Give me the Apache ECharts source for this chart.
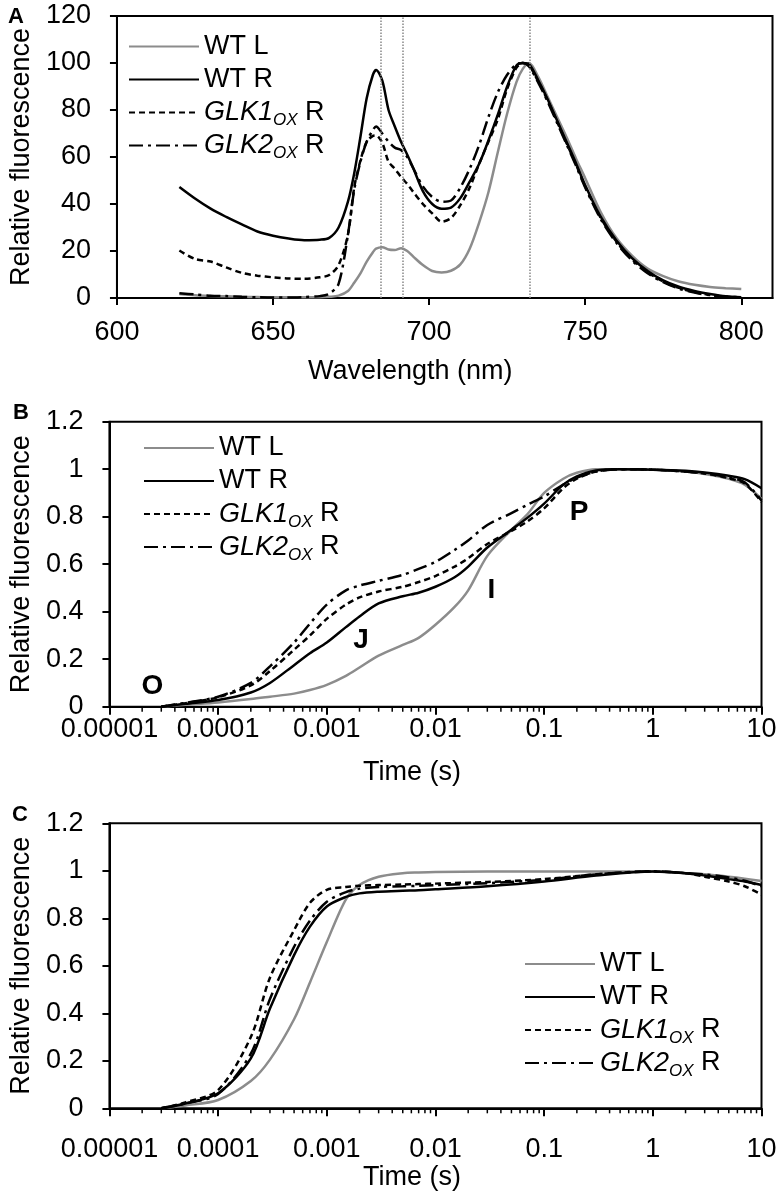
<!DOCTYPE html>
<html>
<head>
<meta charset="utf-8">
<script src="https://cdn.jsdelivr.net/npm/echarts@6/dist/echarts.min.js"></script>
<style>
  html, body { margin: 0; padding: 0; background: #fff; }
  #chart { width: 780px; height: 1194px; }
</style>
</head>
<body>
<div id="chart"></div>
<script>
// --- data ---
const names = ['WT L', 'WT R', 'GLK1OX R', 'GLK2OX R']

// panel A: 77 K emission spectra
const wavelength = [620, 625, 630, 635, 640, 645, 650, 655, 660, 665,
  668, 671, 674, 676, 678, 680, 682, 683, 685, 687,
  689, 691, 693, 695, 698, 701, 704, 707, 710, 713,
  716, 719, 722, 725, 728, 730, 732, 735, 738, 741,
  744, 747, 750, 755, 760, 765, 770, 775, 780, 785,
  790, 795, 800]
const specWTL = [1.7, 1.2, 0.9, 0.7, 0.5, 0.4, 0.3, 0.3, 0.3, 0.3,
  0.5, 1.0, 3.0, 6.5, 10.5, 15.5, 19.5, 21, 21.6, 20.6,
  20.4, 21.2, 20, 17.5, 14, 11.5, 10.9, 11.6, 14.3, 21,
  32, 45, 62, 78.5, 92, 97.5, 100, 94, 85.5, 77,
  68.5, 59.5, 51, 36.5, 25.5, 18, 12.5, 9.3, 7, 5.6,
  4.7, 4.2, 3.8]
const specWTR = [47.2, 42.3, 38, 34.5, 31.3, 28.3, 26.5, 25.3, 24.6, 24.8,
  25.6, 30, 41, 53, 68.6, 85, 95, 97, 92.5, 80,
  73, 66.5, 61, 55, 45.5, 40, 38, 38.5, 42.5, 49.5,
  57, 67, 78, 90, 99, 100, 99.5, 92.5, 84.5, 75.5,
  66.5, 57.5, 48, 34.5, 24.5, 17, 11.5, 7.5, 4.8, 3,
  1.7, 0.7, 0.3]
const specGLK1 = [20.2, 16.6, 15.5, 13, 10.7, 9.5, 8.8, 8.3, 8.2, 8.8,
  9.8, 14, 27, 47, 58.5, 66.5, 69, 69.2, 66, 58,
  55, 51.5, 48.5, 45, 40, 36, 32.5, 34, 39.5, 47,
  57, 66.5, 76, 89, 98, 100, 99, 92, 84, 75,
  66, 57, 47.5, 34, 24, 16.5, 11, 7, 4.3, 2.5,
  1.3, 0.5, 0.2]
const specGLK2 = [2, 1.5, 1, 0.8, 0.5, 0.3, 0.2, 0.2, 0.4, 0.8,
  1.8, 6, 27, 46, 58, 66.5, 71.5, 73, 70, 66.5,
  64, 63, 60, 55, 47.5, 43, 41, 41.5, 47, 55,
  65, 77, 87.5, 95, 99.5, 100, 98.5, 91.5, 83.5, 74.5,
  65.5, 56.5, 47, 33.5, 23.5, 16, 10.5, 6.8, 4, 2.3,
  1.2, 0.6, 0.3]
const markWavelengths = [684.5, 691.4, 732.3]
const wlTicks = [600, 650, 700, 750, 800]

// panel B: OJIP transients
const timeB = [3e-5, 5e-5, 1e-4, 2e-4, 3e-4, 5e-4, 7e-4, 1e-3, 1.5e-3, 2e-3,
  3e-3, 5e-3, 7e-3, 1e-2, 1.5e-2, 2e-2, 3e-2, 5e-2, 7e-2, 0.1,
  0.15, 0.2, 0.3, 0.5, 1, 2, 3, 5, 7, 10]
const ojipWTL = [0, 0.008, 0.018, 0.032, 0.042, 0.055, 0.07, 0.092, 0.13, 0.165,
  0.215, 0.26, 0.29, 0.345, 0.42, 0.49, 0.635, 0.745, 0.81, 0.9,
  0.96, 0.985, 1.0, 1.0, 0.998, 0.99, 0.98, 0.96, 0.935, 0.875]
const ojipWTR = [0, 0.012, 0.028, 0.06, 0.1, 0.175, 0.225, 0.27, 0.335, 0.38,
  0.435, 0.465, 0.48, 0.505, 0.545, 0.59, 0.67, 0.745, 0.795, 0.855,
  0.935, 0.97, 0.995, 1.0, 0.998, 0.993, 0.986, 0.972, 0.958, 0.92]
const ojipGLK1 = [0, 0.015, 0.04, 0.09, 0.15, 0.24, 0.3, 0.37, 0.43, 0.46,
  0.485, 0.505, 0.525, 0.55, 0.59, 0.625, 0.685, 0.74, 0.78, 0.835,
  0.92, 0.96, 0.99, 1.0, 0.998, 0.99, 0.982, 0.962, 0.94, 0.862]
const ojipGLK2 = [0, 0.016, 0.042, 0.1, 0.17, 0.27, 0.35, 0.43, 0.49, 0.51,
  0.53, 0.555, 0.58, 0.61, 0.66, 0.7, 0.765, 0.815, 0.85, 0.885,
  0.935, 0.965, 0.99, 1.0, 0.998, 0.99, 0.983, 0.965, 0.945, 0.868]

// panel C
const timeC = [3e-5, 5e-5, 1e-4, 2e-4, 3e-4, 5e-4, 7e-4, 1e-3, 1.5e-3, 2e-3,
  3e-3, 5e-3, 7e-3, 1e-2, 3e-2, 0.1, 0.3, 1, 2, 3, 5, 7, 10]
const cWTL = [0, 0.012, 0.035, 0.115, 0.205, 0.375, 0.53, 0.7, 0.88, 0.94,
  0.975, 0.99, 0.993, 0.995, 0.997, 0.997, 0.997, 0.997, 0.99, 0.985, 0.975, 0.967, 0.957]
const cWTR = [0, 0.02, 0.063, 0.21, 0.42, 0.645, 0.765, 0.85, 0.89, 0.905,
  0.912, 0.916, 0.918, 0.922, 0.935, 0.955, 0.98, 0.997, 0.99, 0.98, 0.965, 0.955, 0.94]
const cGLK1 = [0, 0.025, 0.077, 0.3, 0.55, 0.75, 0.865, 0.92, 0.932, 0.937,
  0.94, 0.942, 0.944, 0.946, 0.953, 0.965, 0.985, 0.997, 0.99, 0.975, 0.955, 0.935, 0.9]
const cGLK2 = [0, 0.02, 0.06, 0.23, 0.46, 0.68, 0.79, 0.87, 0.91, 0.925,
  0.932, 0.935, 0.937, 0.94, 0.948, 0.962, 0.985, 0.998, 0.99, 0.985, 0.972, 0.958, 0.935]

const timeTicks = [1e-5, 1e-4, 1e-3, 1e-2, 0.1, 1, 10]
const minorMultipliers = [2, 3, 4, 5, 6, 7, 8, 9]

// --- styling ---
const FONT = '"Liberation Sans", Arial, Helvetica, sans-serif'
const GREY = '#8c8c8c'
const lineStyles = {
  'WT L': { color: GREY, type: 'solid' },
  'WT R': { color: '#000', type: 'solid' },
  'GLK1OX R': { color: '#000', type: [6, 4] },
  'GLK2OX R': { color: '#000', type: [14, 5, 3, 5] }
}

// 2..9 x each decade, for the short log ticks
const minorTicks = []
timeTicks.slice(0, -1).forEach(d => minorMultipliers.forEach(k => minorTicks.push(+(k * d).toPrecision(1))))

function pairs(xs, ys) {
  return xs.map((x, i) => [x, ys[i]])
}

function timeLabel(v) {
  const s = Number(v.toPrecision(1))
  return s >= 1 ? String(s) : s.toFixed(Math.round(-Math.log10(s)))
}

function legendText(name) {
  const m = name.match(/^(GLK\d)OX R$/)
  return m ? `{it|${m[1]}}{sub|OX}{n| R}` : `{n|${name}}`
}

const legendRich = {
  n: { fontSize: 27, lineHeight: 33, fontFamily: FONT, color: '#000' },
  it: { fontSize: 27, lineHeight: 33, fontFamily: FONT, color: '#000', fontStyle: 'italic' },
  sub: { fontSize: 17, lineHeight: 9, fontFamily: FONT, color: '#000', fontStyle: 'italic', verticalAlign: 'bottom' }
}

function makeLegend(left, top) {
  return {
    data: names, orient: 'vertical', left, top, padding: 0, itemGap: 0,
    itemWidth: 70, itemHeight: 14, selectedMode: false,
    itemStyle: { opacity: 0 },
    formatter: legendText,
    textStyle: { fontSize: 27, lineHeight: 33, fontFamily: FONT, color: '#000', rich: legendRich }
  }
}

const axisLine = { show: true, onZero: false, lineStyle: { color: '#000', width: 2 } }
const labelStyle = { color: '#000', fontSize: 27, fontFamily: FONT }

function yAxis(gridIndex, max, interval, nameGap) {
  return {
    type: 'value', gridIndex, min: 0, max, interval,
    name: 'Relative fluorescence', nameLocation: 'middle', nameGap,
    nameTextStyle: labelStyle,
    axisLine, splitLine: { show: false },
    axisTick: { show: true, length: 7, lineStyle: { color: '#000', width: 2 } },
    axisLabel: Object.assign({ margin: 26 }, labelStyle)
  }
}

function timeAxis(gridIndex, labelMargin, nameGap) {
  return {
    type: 'log', logBase: 10, gridIndex, min: 1e-5, max: 10,
    name: 'Time (s)', nameLocation: 'middle', nameGap,
    nameTextStyle: Object.assign({ padding: [0, 47, 0, 0] }, labelStyle),
    axisLine, splitLine: { show: false }, minorTick: { show: false },
    axisTick: { show: true, length: 8, lineStyle: { color: '#000', width: 2 } },
    axisLabel: Object.assign({ margin: labelMargin, formatter: timeLabel }, labelStyle)
  }
}

function lineSeries(name, xAxisIndex, yAxisIndex, data) {
  const st = lineStyles[name]
  return {
    type: 'line', name, xAxisIndex, yAxisIndex, data,
    symbol: 'none', showSymbol: false, smooth: 0.3,
    lineStyle: { color: st.color, type: st.type, width: 2.5 },
    itemStyle: { color: st.color },
    emphasis: { disabled: true }, animation: false
  }
}

// short ticks between the decades, placed through the log axis
function minorTickSeries(xAxisIndex, yAxisIndex) {
  return {
    type: 'custom', name: 'minor ticks', xAxisIndex, yAxisIndex, clip: false, silent: true, z: 5,
    data: minorTicks.map(t => [t, 0]),
    encode: { x: 0, y: 1 },
    renderItem: (params, api) => {
      const p = api.coord([api.value(0), 0])
      return {
        type: 'line',
        shape: { x1: p[0], y1: p[1], x2: p[0], y2: p[1] + 5 },
        style: { stroke: '#000', lineWidth: 1.5 }
      }
    }
  }
}

const specSeries = [specWTL, specWTR, specGLK1, specGLK2]
const ojipSeries = [ojipWTL, ojipWTR, ojipGLK1, ojipGLK2]
const cSeries = [cWTL, cWTR, cGLK1, cGLK2]

const series = []
names.forEach((n, i) => series.push(lineSeries(n, 0, 0, pairs(wavelength, specSeries[i]))))
names.forEach((n, i) => series.push(lineSeries(n, 1, 1, pairs(timeB, ojipSeries[i]))))
names.forEach((n, i) => series.push(lineSeries(n, 2, 2, pairs(timeC, cSeries[i]))))
series.push(minorTickSeries(1, 1), minorTickSeries(2, 2))

// dotted guide lines in panel A
series[0].markLine = {
  silent: true, symbol: ['none', 'none'], label: { show: false },
  lineStyle: { type: 'dotted', color: '#888', width: 1.5 },
  data: markWavelengths.map(w => ({ xAxis: w }))
}

const boxed = { show: true, borderColor: '#000', borderWidth: 2, backgroundColor: 'transparent' }

function letter(text, x, y, size) {
  return {
    type: 'text', x, y, silent: true,
    style: {
      text, fill: '#000', fontSize: size, fontWeight: 'bold', fontFamily: FONT,
      align: 'center', verticalAlign: 'middle'
    }
  }
}

const chart = echarts.init(document.getElementById('chart'), null, { renderer: 'canvas' })
chart.setOption({
  animation: false,
  backgroundColor: '#fff',
  grid: [
    Object.assign({ left: 108, top: 16, width: 664.5, height: 282 }, boxed),
    Object.assign({ left: 102.7, top: 421.7, width: 658.8, height: 285 }, boxed),
    Object.assign({ left: 102.7, top: 823.3, width: 658.8, height: 285 }, boxed)
  ],
  legend: [makeLegend(128, 30), makeLegend(143, 431.5), makeLegend(524, 947.5)],
  xAxis: [
    {
      type: 'value', gridIndex: 0, min: 600, max: 810, interval: 50,
      name: 'Wavelength (nm)', nameLocation: 'middle', nameGap: 60,
      nameTextStyle: Object.assign({ padding: [0, 69, 0, 0] }, labelStyle),
      axisLine, splitLine: { show: false },
      axisTick: { show: true, length: 7, customValues: wlTicks, lineStyle: { color: '#000', width: 2 } },
      axisLabel: Object.assign({ margin: 21, customValues: wlTicks }, labelStyle)
    },
    timeAxis(1, 9, 52),
    timeAxis(2, 28, 53)
  ],
  yAxis: [yAxis(0, 120, 20, 77), yAxis(1, 1.2, 0.2, 72), yAxis(2, 1.2, 0.2, 72)],
  series,
  graphic: [
    letter('A', 16, 16.5, 22),
    letter('B', 21, 412.5, 22),
    letter('C', 20, 815, 22),
    letter('O', 152.5, 686, 28),
    letter('J', 361, 640, 28),
    letter('I', 491.5, 590, 28),
    letter('P', 579, 512, 28)
  ]
})
</script>
</body>
</html>
